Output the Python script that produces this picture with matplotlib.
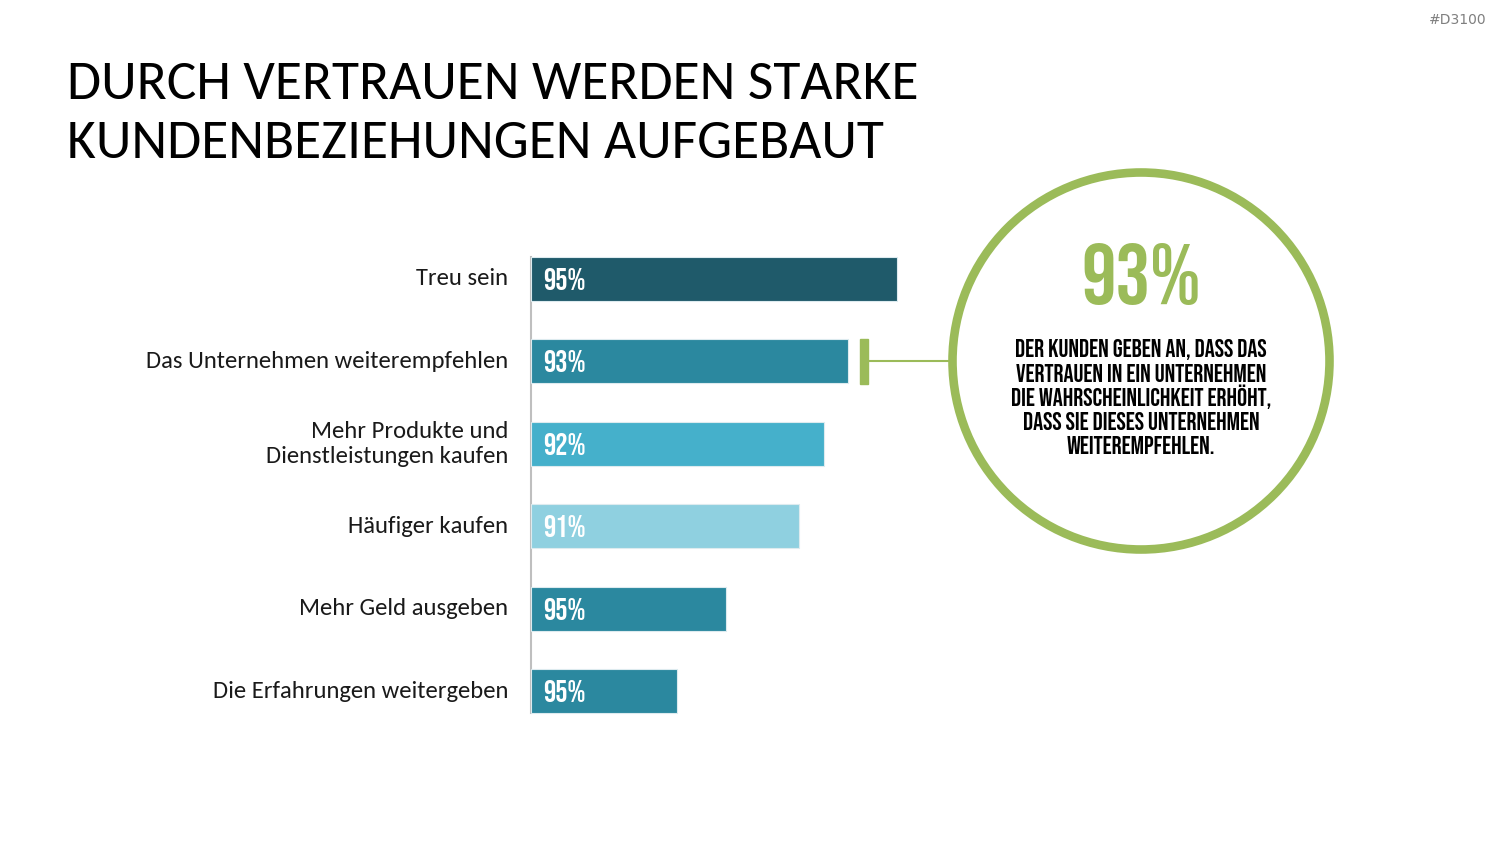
import matplotlib.pyplot as plt
from matplotlib.patches import Circle, Rectangle
from matplotlib import font_manager

categories = ["Treu sein", "Das Unternehmen weiterempfehlen",
              "Mehr Produkte und\nDienstleistungen kaufen", "Häufiger kaufen",
              "Mehr Geld ausgeben", "Die Erfahrungen weitergeben"]
bar_len = [75, 65, 60, 55, 40, 30]
bar_labels = ["95%", "93%", "92%", "91%", "95%", "95%"]
bar_colors = ["#1F5A6A", "#2B889F", "#45B0CB", "#8FD0E0", "#2B889F", "#2B889F"]

title = "DURCH VERTRAUEN WERDEN STARKE\nKUNDENBEZIEHUNGEN AUFGEBAUT"
big_value = "93%"
callout_lines = ["DER KUNDEN GEBEN AN, DASS DAS", "VERTRAUEN IN EIN UNTERNEHMEN",
                 "DIE WAHRSCHEINLICHKEIT ERHÖHT,", "DASS SIE DIESES UNTERNEHMEN",
                 "WEITEREMPFEHLEN."]
green = "#9BBB59"

installed = {f.name for f in font_manager.fontManager.ttflist}

def pick(*fams):
    for f in fams:
        if f in installed:
            return f
    return "DejaVu Sans"

condensed = pick("Bebas Neue", "Fira Sans Condensed")
calibri = pick("Carlito", "Lato")

W, H = 1500, 844
fig = plt.figure(figsize=(15, 8.44), dpi=100)
fig.patch.set_facecolor("white")

# bar axes, placed in pixel terms
x0, x1 = 531, 531 + 488
ytop, ybot = 279 - 41.25, 691 + 41.25
ax = fig.add_axes([x0 / W, 1 - ybot / H, (x1 - x0) / W, (ybot - ytop) / H])
ypos = list(range(len(categories)))
ax.barh(ypos, bar_len, height=0.533, color=bar_colors, edgecolor="#DDEBEF", linewidth=0.8)
ax.set_xlim(0, 100)
ax.set_ylim(5.5, -0.5)
for s in ax.spines.values():
    s.set_visible(False)
ax.set_xticks([])
ax.set_yticks([])
ax.plot([0, 0], [-0.27, 5.27], color="#BFBFBF", lw=1.5, clip_on=False, zorder=0)

for i, (c, l) in enumerate(zip(categories, bar_labels)):
    ax.text(-4.7, i, c, ha="right", va="center", fontsize=17.7, family=calibri,
            fontweight="light", color="#1A1A1A", linespacing=1.25)
    ax.text(2.5, i, l, ha="left", va="center", fontsize=22, color="white",
            family=condensed)

# callout marker and connector
ax.add_patch(Rectangle((67.4, 1 - 0.27), 1.6, 0.54, color=green, clip_on=False))
ax.plot([68.5, 85.5], [1, 1], color=green, lw=1.5, clip_on=False)

fig.text(67 / W, 1 - 114 / H, title, ha="left", va="center", fontsize=40,
         family=calibri, color="black", linespacing=1.33)
fig.text(1486 / W, 1 - 20 / H, "#D3100", ha="right", va="center", fontsize=10,
         color="#7F7F7F", family="DejaVu Sans")

# circle
cax = fig.add_axes([0, 0, 1, 1])
cax.set_xlim(0, W)
cax.set_ylim(H, 0)
cax.axis("off")
cax.patch.set_alpha(0)
cax.add_patch(Circle((1141, 361), 188.5, fill=False, edgecolor=green, lw=6.2))
cax.text(1141, 274, big_value, ha="center", va="center", fontsize=62, color=green,
         family=condensed)
for k, line in enumerate(callout_lines):
    cax.text(1141, 349 + 24 * k, line, ha="center", va="center", fontsize=18,
             color="black", family=condensed)

fig.savefig("out.png", dpi=100)
